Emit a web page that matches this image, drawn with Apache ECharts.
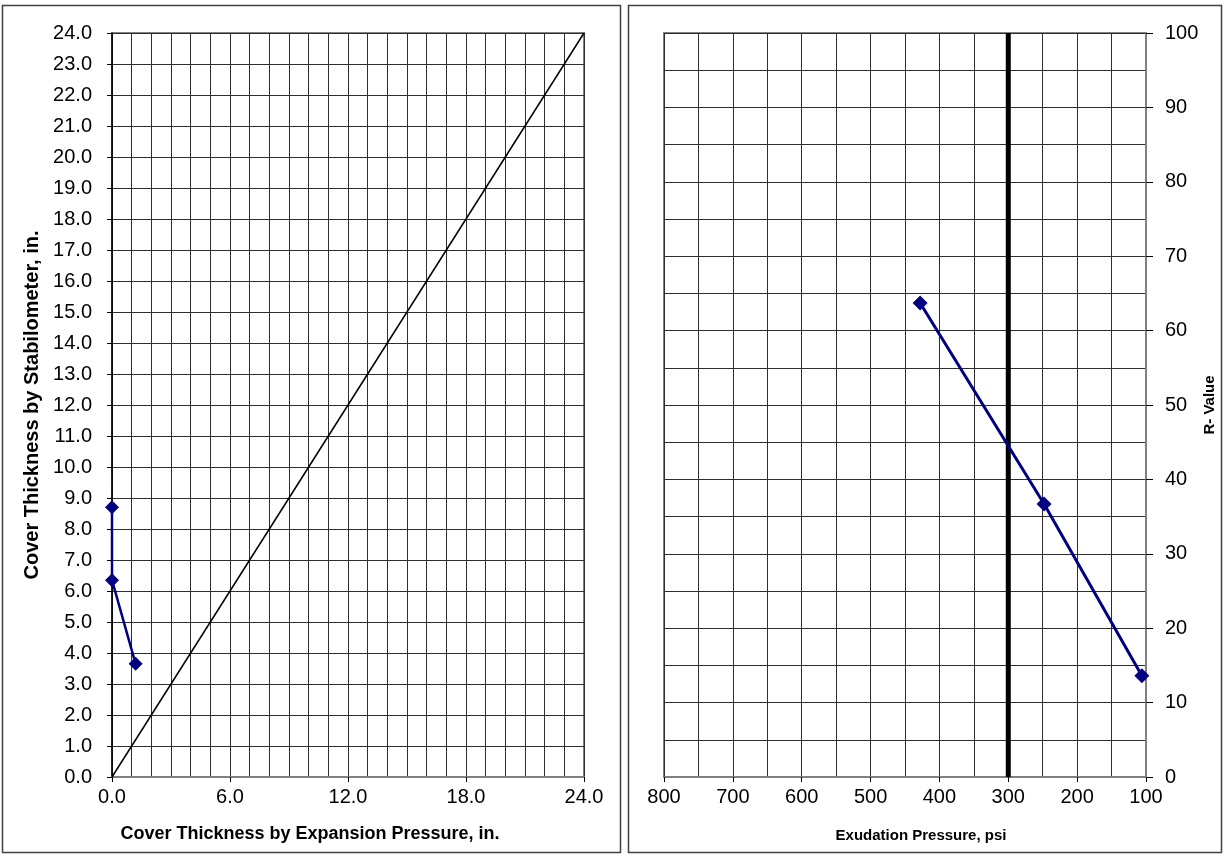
<!DOCTYPE html>
<html>
<head>
<meta charset="utf-8">
<style>
  html, body { margin: 0; padding: 0; background: #fff; }
  #chart { width: 1225px; height: 856px; }
</style>
<script src="https://cdn.jsdelivr.net/npm/echarts@6/dist/echarts.min.js"></script>
</head>
<body>
<div id="chart"></div>
<script>
// Left panel: cover thickness by stabilometer vs. by expansion pressure (in.)
const expansionThickness = [0.0, 0.0, 1.2];
const stabilometerThickness = [8.7, 6.35, 3.65];
const equalityLineX = [0, 24];
const equalityLineY = [0, 24];

// Right panel: R-value vs. exudation pressure (psi)
const exudationPressure = [428, 248, 106];
const rValue = [63.7, 36.7, 13.6];
const designPressureX = [300, 300];
const designPressureY = [0, 100];

const FONT = '"Liberation Sans", Arial, sans-serif';
const GRID_COLOR = '#2e2e2e';
const BORDER_COLOR = '#808080';
const SERIES_COLOR = '#000080';

function pairs(xs, ys) { return xs.map((x, i) => [x, ys[i]]); }

function bold(size) {
  return { color: '#000', fontFamily: FONT, fontSize: size, fontWeight: 'bold' };
}
const labelStyle = { color: '#000', fontFamily: FONT, fontSize: 20 };
const gridLine = { show: true, lineStyle: { color: GRID_COLOR, width: 1 } };

const chart = echarts.init(document.getElementById('chart'), null, { renderer: 'canvas' });

chart.setOption({
  animation: false,
  backgroundColor: '#fff',
  graphic: [
    { type: 'rect', shape: { x: 2.5, y: 5.5, width: 618, height: 847 },
      style: { fill: 'none', stroke: '#404040', lineWidth: 1.5 }, z: -1 },
    { type: 'rect', shape: { x: 628.5, y: 5.5, width: 593, height: 847 },
      style: { fill: 'none', stroke: '#404040', lineWidth: 1.5 }, z: -1 }
  ],
  grid: [
    { left: 112, top: 33, width: 472, height: 744, show: true,
      borderColor: BORDER_COLOR, borderWidth: 2, backgroundColor: 'transparent' },
    { left: 664, top: 33, width: 482, height: 744, show: true,
      borderColor: BORDER_COLOR, borderWidth: 2, backgroundColor: 'transparent' }
  ],
  xAxis: [
    {
      gridIndex: 0, type: 'value', min: 0, max: 24, interval: 6,
      name: 'Cover Thickness by Expansion Pressure, in.',
      nameLocation: 'middle', nameGap: 48,
      nameTextStyle: Object.assign({ padding: [0, 76, 0, 0] }, bold(18)),
      axisLine: { show: true, onZero: false, lineStyle: { color: BORDER_COLOR, width: 2 } },
      axisTick: { show: true, length: 5, inside: false, lineStyle: { color: '#000' } },
      axisLabel: Object.assign({ margin: 10, formatter: v => v.toFixed(1) }, labelStyle),
      splitLine: gridLine,
      minorTick: { show: false, splitNumber: 6 },
      minorSplitLine: gridLine
    },
    {
      gridIndex: 1, type: 'value', min: 100, max: 800, interval: 100, inverse: true,
      name: 'Exudation Pressure, psi',
      nameLocation: 'middle', nameGap: 51,
      nameTextStyle: Object.assign({ padding: [0, 0, 0, 32] }, bold(15)),
      axisLine: { show: true, onZero: false, lineStyle: { color: BORDER_COLOR, width: 2 } },
      axisTick: { show: true, length: 5, inside: false, lineStyle: { color: '#000' } },
      axisLabel: Object.assign({ margin: 10, formatter: v => String(v) }, labelStyle),
      splitLine: gridLine,
      minorTick: { show: false, splitNumber: 2 },
      minorSplitLine: gridLine
    }
  ],
  yAxis: [
    {
      gridIndex: 0, type: 'value', min: 0, max: 24, interval: 1,
      name: 'Cover Thickness by Stabilometer, in.',
      nameLocation: 'middle', nameGap: 70, nameRotate: 90, nameTextStyle: bold(20),
      axisLine: { show: true, onZero: false, lineStyle: { color: '#000', width: 1.5 } },
      axisTick: { show: true, length: 5, inside: false, lineStyle: { color: '#000' } },
      axisLabel: Object.assign({ margin: 20, formatter: v => v.toFixed(1) }, labelStyle),
      splitLine: gridLine
    },
    {
      gridIndex: 1, type: 'value', min: 0, max: 100, interval: 10, position: 'right',
      name: 'R- Value',
      nameLocation: 'middle', nameGap: 51, nameRotate: 90, nameTextStyle: bold(15),
      axisLine: { show: true, onZero: false, lineStyle: { color: BORDER_COLOR, width: 2 } },
      axisTick: { show: true, length: 7, inside: false, lineStyle: { color: '#000' } },
      axisLabel: Object.assign({ margin: 19, formatter: v => String(v) }, labelStyle),
      splitLine: gridLine,
      minorTick: { show: false, splitNumber: 2 },
      minorSplitLine: gridLine
    }
  ],
  series: [
    {
      name: 'Equality', type: 'line', xAxisIndex: 0, yAxisIndex: 0,
      data: pairs(equalityLineX, equalityLineY),
      showSymbol: false, symbol: 'none',
      lineStyle: { color: '#000', width: 1.5 }, z: 3
    },
    {
      name: 'Cover Thickness', type: 'line', xAxisIndex: 0, yAxisIndex: 0,
      data: pairs(expansionThickness, stabilometerThickness),
      symbol: 'diamond', symbolSize: 14,
      itemStyle: { color: SERIES_COLOR },
      lineStyle: { color: SERIES_COLOR, width: 2.5 }, z: 4
    },
    {
      name: 'Design Exudation Pressure', type: 'line', xAxisIndex: 1, yAxisIndex: 1,
      data: pairs(designPressureX, designPressureY),
      symbol: 'none',
      lineStyle: { color: '#000', width: 5 }, z: 3
    },
    {
      name: 'R-Value', type: 'line', xAxisIndex: 1, yAxisIndex: 1,
      data: pairs(exudationPressure, rValue),
      symbol: 'diamond', symbolSize: 15,
      itemStyle: { color: SERIES_COLOR },
      lineStyle: { color: SERIES_COLOR, width: 3 }, z: 4
    }
  ]
});
</script>
</body>
</html>
